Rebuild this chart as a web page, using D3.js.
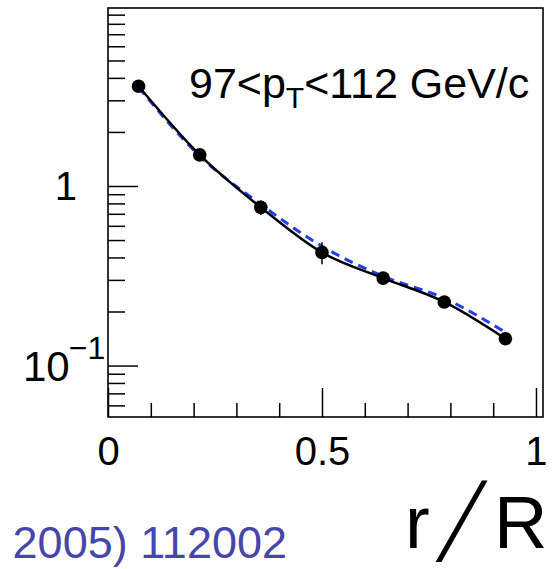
<!DOCTYPE html>
<meta charset="utf-8">
<style>
body { margin: 0; background: #fff; }
svg { display: block; font-family: "Liberation Sans", Arial, sans-serif; }
.tick text { font-family: "Liberation Sans", Arial, sans-serif; }
.axis path { display: none; }
.axis line { stroke: #000; stroke-width: 1.5px; }
</style>
<body>
<script src="https://d3js.org/d3.v7.min.js"></script>
<script>

// jet shape data (r/R bins) and model curve
var rBins    = [0.0714, 0.2143, 0.3571, 0.5, 0.6429, 0.7857, 0.9286];
var psiData  = [3.59, 1.49, 0.76, 0.426, 0.307, 0.226, 0.141];
var psiErr   = [0.10, 0.04, 0.07, 0.06, 0.015, 0.015, 0.01];
var psiModel = [3.55, 1.47, 0.79, 0.462, 0.314, 0.237, 0.153];

var xMajor = [0, 0.5, 1];
var xMinor = [0.1, 0.2, 0.3, 0.4, 0.6, 0.7, 0.8, 0.9];
var yMajor = [0.1, 1];
var yMinor = [0.06, 0.07, 0.08, 0.09, 0.2, 0.3, 0.4, 0.5, 0.6, 0.7, 0.8, 0.9,
              2, 3, 4, 5, 6, 7, 8, 9];

var W = 558, H = 569;
var frame = {left: 108, top: 8, right: 543, bottom: 417};

var svg = d3.select("body").append("svg")
    .attr("width", W)
    .attr("height", H);

var x = d3.scaleLinear().domain([0, 1.0164]).range([frame.left, frame.right]);
var y = d3.scaleLog().domain([0.0517, 9.8]).range([frame.bottom, frame.top]);

// frame
svg.append("rect")
    .attr("x", frame.left).attr("y", frame.top)
    .attr("width", frame.right - frame.left)
    .attr("height", frame.bottom - frame.top)
    .attr("fill", "none")
    .attr("stroke", "#000")
    .attr("stroke-width", 1.6);

// x axis ticks (pointing up, inside the frame)
svg.append("g")
    .attr("class", "axis")
    .attr("transform", "translate(0," + frame.bottom + ")")
    .call(d3.axisBottom(x).tickValues(xMinor).tickSize(-14).tickFormat(""));

svg.append("g")
    .attr("class", "axis")
    .attr("transform", "translate(0," + frame.bottom + ")")
    .call(d3.axisBottom(x).tickValues(xMajor).tickSize(-29).tickPadding(20)
        .tickFormat(function(d) { return d3.format("")(d); }))
    .selectAll("text")
    .attr("fill", "#000")
    .style("font-size", "40px");

// y axis ticks (pointing right)
svg.append("g")
    .attr("class", "axis")
    .attr("transform", "translate(" + frame.left + ",0)")
    .call(d3.axisLeft(y).tickValues(yMinor).tickSize(-17).tickFormat(""));

svg.append("g")
    .attr("class", "axis")
    .attr("transform", "translate(" + frame.left + ",0)")
    .call(d3.axisLeft(y).tickValues(yMajor).tickSize(-30).tickFormat(""));

// y labels
svg.append("text")
    .attr("x", 77).attr("y", y(1) + 14)
    .attr("text-anchor", "end")
    .style("font-size", "40px")
    .text("1");

var lab = svg.append("text")
    .attr("x", 23).attr("y", y(0.1) + 15)
    .style("font-size", "42px");
lab.append("tspan").text("10");
lab.append("tspan")
    .attr("dy", -22)
    .attr("dx", -1)
    .style("font-size", "32px")
    .text("\u22121");

// model curve (blue dashed)
var modelLine = d3.line()
    .curve(d3.curveMonotoneX)
    .x(function(d, i) { return x(rBins[i]); })
    .y(function(d) { return y(d); });

svg.append("path")
    .datum(psiModel)
    .attr("fill", "none")
    .attr("stroke", "#1f3df5")
    .attr("stroke-width", 3)
    .attr("stroke-dasharray", "9,6")
    .attr("d", modelLine);

// data curve (black)
svg.append("path")
    .datum(psiData)
    .attr("fill", "none")
    .attr("stroke", "#000")
    .attr("stroke-width", 2.5)
    .attr("d", modelLine);

// error bars
svg.append("g").selectAll("line")
    .data(psiData)
    .join("line")
    .attr("x1", function(d, i) { return x(rBins[i]); })
    .attr("x2", function(d, i) { return x(rBins[i]); })
    .attr("y1", function(d, i) { return y(d + psiErr[i]); })
    .attr("y2", function(d, i) { return y(d - psiErr[i]); })
    .attr("stroke", "#000")
    .attr("stroke-width", 1.5);

// markers
svg.append("g").selectAll("circle")
    .data(psiData)
    .join("circle")
    .attr("cx", function(d, i) { return x(rBins[i]); })
    .attr("cy", function(d) { return y(d); })
    .attr("r", 6.8)
    .attr("fill", "#000");

// pT label
var pt = svg.append("text")
    .attr("x", 189).attr("y", 98)
    .style("font-size", "43px");
pt.append("tspan").text("97<p");
pt.append("tspan").attr("dy", 10).style("font-size", "30px").text("T");
pt.append("tspan").attr("dy", -10).text("<112 GeV/c");

// axis title r/R (long slanted slash)
svg.append("text")
    .attr("x", 405).attr("y", 548)
    .style("font-size", "74px")
    .text("r");
svg.append("text")
    .attr("transform", "translate(436,561) scale(1,1.5) skewX(-30)")
    .style("font-size", "74px")
    .text("/");
svg.append("text")
    .attr("x", 494).attr("y", 548)
    .style("font-size", "74px")
    .text("R");

// reference (cut at left edge)
svg.append("text")
    .attr("x", 287).attr("y", 558)
    .attr("text-anchor", "end")
    .attr("fill", "#4646a8")
    .style("font-size", "45px")
    .text("2005) 112002");

</script>
</body>
